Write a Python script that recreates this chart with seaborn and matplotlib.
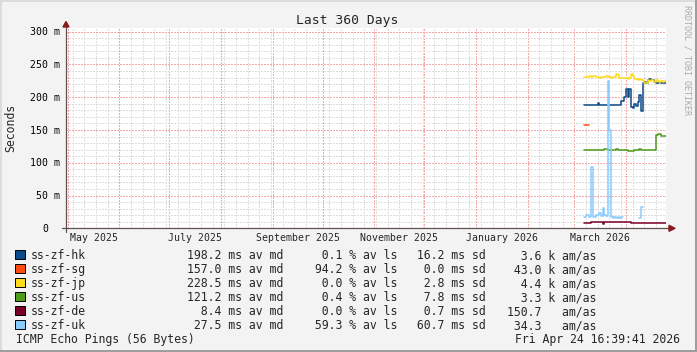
import numpy as np
import pandas as pd
import matplotlib
matplotlib.use("Agg")
import matplotlib.pyplot as plt
import matplotlib.dates as mdates
import matplotlib.transforms as mtransforms
from matplotlib.patches import Rectangle, Polygon
from matplotlib.lines import Line2D
from matplotlib.ticker import FixedLocator, MultipleLocator
import seaborn as sns

# ---------------- data ----------------
title = "Last 360 Days"
ylabel = "Seconds"
footer_left = "ICMP Echo Pings (56 Bytes)"
footer_right = "Fri Apr 24 16:39:41 2026"
watermark = "RRDTOOL / TOBI OETIKER"

t_start = pd.Timestamp("2025-04-29 16:39:41")
t_end = pd.Timestamp("2026-04-24 16:39:41")
data_start = "2026-03-07"          # first daily sample

series_names = ["ss-zf-hk", "ss-zf-sg", "ss-zf-jp", "ss-zf-us", "ss-zf-de", "ss-zf-uk"]
series_colors = ["#0B4A89", "#FF4A12", "#FFDA1E", "#4E9A19", "#7A0026", "#88CCFF"]

N = np.nan
hk = [188, 188, 188, 188, 188, 188, 188, 188, 191, 188, 188, 188, 188, 188, 188, 188,
      188, 188, 188, 188, 188, 188, 194, 194, 201, 212, 200, 212, 185, 184, 190, 186,
      192, 204, 179, 222, 223, 222, 227, 228, 226, 227, 223, 222, 222, 223, 221, 222, 221]
sg = [157, 157, 157] + [N] * 46
jp = [231, 231, 231, 232, 231, 233, 232, 231, 231, 230, 231, 231, 231, 232, 231, 231,
      230, 231, 231, 235, 234, 230, 230, 230, 229, 229, 228, 229, 235, 232, 228, 228,
      227, 228, 227, 227, 222, 222, 226, 225, 226, 225, 224, 226, 225, 224, 225, 224, 225]
us = [119.5] * 12 + [121, 121] + [119.5] * 5 + [120.5] + [119.5] * 6 + [118] * 4 \
     + [119] * 3 + [120.5] + [119.5] * 9 + [142, 144, 144, 141.5, 141.5, 141.5]
de = [7.6] * 4 + [9.0] * 7 + [6.5] + [9.0] * 16 + [7.6] * 21
uk = [18, 21, 20, 18, 93, 18, 17, 21, 20, 23, 19, 31, 20, 19, 225, 150, 17, 16, 18, 16,
      17, 16, 17] + [N] * 10 + [15, 32] + [N] * 14

legend_md = [198.2, 157.0, 228.5, 121.2, 8.4, 27.5]
legend_ls = [0.1, 94.2, 0.0, 0.4, 0.0, 59.3]
legend_sd = [16.2, 0.0, 2.8, 7.8, 0.7, 60.7]
legend_amas = [3.6, 43.0, 4.4, 3.3, 150.7, 34.3]
legend_amas_unit = ["k", "k", "k", "k", " ", " "]

ytick_vals = [0, 50, 100, 150, 200, 250, 300]
ytick_labels = ["0", "50 m", "100 m", "150 m", "200 m", "250 m", "300 m"]
ymax = 305.2

month_labels = ["May 2025", "July 2025", "September 2025", "November 2025",
                "January 2026", "March 2026"]
month_label_starts = ["2025-05-01", "2025-07-01", "2025-09-01", "2025-11-01",
                      "2026-01-01", "2026-03-01"]

# ---------------- build table ----------------
dates = pd.date_range(data_start, periods=len(hk), freq="D")
rows = []
for name, vals in zip(series_names, [hk, sg, jp, us, de, uk]):
    v = np.asarray(vals, dtype=float)
    ok = ~np.isnan(v)
    seg = np.cumsum(~ok)
    for sid in np.unique(seg[ok]):
        idx = np.where(ok & (seg == sid))[0]
        ds = list(dates[idx]) + [dates[idx[-1]] + pd.Timedelta(days=1)]
        ys = list(v[idx]) + [v[idx[-1]]]
        for d, y in zip(ds, ys):
            rows.append((name, f"{name}-{sid}", d, y))
df = pd.DataFrame(rows, columns=["series", "seg", "date", "value"])

# ---------------- style ----------------
W, H = 697, 352
BACK = "#F3F3F3"
GRID = "#DEDEDE"
MGRID = "#F5A8A8"
AXIS = "#5E5050"
ARROW = "#8B1A1A"

sns.set_style("white")
plt.rcParams["font.family"] = ["DejaVu Sans Mono", "DejaVu Sans"]

fig = plt.figure(figsize=(W / 100, H / 100), dpi=100, facecolor=BACK)
X0, X1, YB, YT = 65.5, 665.5, 228.3, 28.3
ax = fig.add_axes([X0 / W, 1 - YB / H, (X1 - X0) / W, (YB - YT) / H])
ax.set_facecolor("white")

sns.lineplot(data=df, x="date", y="value", hue="series", units="seg", estimator=None,
             hue_order=series_names, palette=dict(zip(series_names, series_colors)),
             drawstyle="steps-post", linewidth=1.1, legend=False, ax=ax, zorder=3)

ax.set_xlim(t_start, t_end)
ax.set_ylim(0, ymax)
ax.set_xlabel("")
ax.set_ylabel("")
for s in ax.spines.values():
    s.set_visible(False)

ax.xaxis.set_major_locator(mdates.MonthLocator())
ax.xaxis.set_minor_locator(mdates.WeekdayLocator(byweekday=mdates.SU))
ax.yaxis.set_major_locator(FixedLocator(ytick_vals))
ax.yaxis.set_minor_locator(MultipleLocator(10))
ax.set_axisbelow(True)
dot = (0, (1.4, 1.4))
gkw = dict(ls=dot, lw=0.72, antialiased=False)
ax.xaxis.grid(True, which="minor", color=GRID, **gkw)
ax.yaxis.grid(True, which="minor", color=GRID, **gkw)
ax.xaxis.grid(True, which="major", color=MGRID, **gkw)
ax.yaxis.grid(True, which="major", color=MGRID, **gkw)
ax.tick_params(labelbottom=False, labelleft=False)
ax.tick_params(axis="x", which="major", direction="inout", length=4, width=0.72, color="#E07070")
ax.tick_params(axis="x", which="minor", direction="inout", length=2.5, width=0.72, color="#A8A8A8")
ax.tick_params(axis="y", which="major", direction="out", length=3, width=0.72, color="#8A8A8A")
ax.tick_params(axis="y", which="minor", direction="out", length=1.6, width=0.72, color="#A8A8A8")

def fx(px):
    return px / W

def fy(py):
    return 1 - py / H

# axis lines + arrows
fig.add_artist(Line2D([fx(62), fx(670)], [fy(YB), fy(YB)], color=AXIS, lw=0.9, zorder=5))
fig.add_artist(Line2D([fx(X0 + 0.5), fx(X0 + 0.5)], [fy(232), fy(26)], color=AXIS, lw=0.9, zorder=5))
fig.add_artist(Polygon([(fx(669), fy(YB - 3)), (fx(675), fy(YB)), (fx(669), fy(YB + 3))],
                       closed=True, color=ARROW, transform=fig.transFigure, zorder=6))
fig.add_artist(Polygon([(fx(X0 - 2.5), fy(27)), (fx(X0 + 0.5), fy(21.5)), (fx(X0 + 3.5), fy(27))],
                       closed=True, color=ARROW, transform=fig.transFigure, zorder=6))

# y tick labels
ytrans = mtransforms.blended_transform_factory(fig.transFigure, ax.transData) + \
    mtransforms.ScaledTranslation(0, -3.5 / 100, fig.dpi_scale_trans)
for v, lab in zip(ytick_vals, ytick_labels):
    xr = 60 if lab.endswith("m") else 48
    ax.text(fx(xr), v, lab, transform=ytrans, ha="right", va="baseline", fontsize=7.1,
            color="black", clip_on=False)

# x month labels centred in their month
xtrans = mtransforms.blended_transform_factory(ax.transData, fig.transFigure)
for lab, st in zip(month_labels, month_label_starts):
    s = pd.Timestamp(st)
    e = s + pd.offsets.MonthBegin(1)
    mid = s + (e - s) / 2
    ax.text(mdates.date2num(mid), fy(241), lab, transform=xtrans, ha="center",
            va="baseline", fontsize=7.1, clip_on=False)

# title, ylabel, watermark
fig.text(fx(347.5), fy(24), title, ha="center", va="baseline", fontsize=9.4)
fig.text(fx(10.5), fy(127.5), ylabel, ha="center", va="center", rotation=90, fontsize=8.3)
fig.text(fx(687.5), fy(5), watermark, ha="center", va="top", rotation=270,
         fontsize=6, color="#ABABAB")

# legend
LFS = 8.3
for i, name in enumerate(series_names):
    base = 259.3 + 14 * i
    fig.add_artist(Rectangle((fx(15), fy(base)), 10 / W, 9.6 / H, transform=fig.transFigure,
                             facecolor=series_colors[i], edgecolor="black", lw=0.7))
    fig.text(fx(30.7), fy(base), name, ha="left", va="baseline", fontsize=LFS)
    fig.text(fx(283.5), fy(base), f"{legend_md[i]:5.1f} ms av md", ha="right", va="baseline", fontsize=LFS)
    fig.text(fx(397.7), fy(base), f"{legend_ls[i]:5.1f} % av ls", ha="right", va="baseline", fontsize=LFS)
    fig.text(fx(486), fy(base), f"{legend_sd[i]:5.1f} ms sd", ha="right", va="baseline", fontsize=LFS)
    fig.text(fx(596.7), fy(base), f"{legend_amas[i]:5.1f} {legend_amas_unit[i]} am/as",
             ha="right", va="baseline", fontsize=LFS)
fig.text(fx(16), fy(343.3), footer_left, ha="left", va="baseline", fontsize=LFS)
fig.text(fx(680), fy(343.3), footer_right, ha="right", va="baseline", fontsize=LFS)

# 3-D border
fig.add_artist(Rectangle((0, fy(2)), 1, 2 / H, transform=fig.transFigure, color="#DCDCDC", lw=0))
fig.add_artist(Rectangle((0, 0), 2 / W, 1, transform=fig.transFigure, color="#DCDCDC", lw=0))
fig.add_artist(Rectangle((0, 0), 1, 2 / H, transform=fig.transFigure, color="#9E9E9E", lw=0))
fig.add_artist(Rectangle((fx(695), 0), 2 / W, 1, transform=fig.transFigure, color="#9E9E9E", lw=0))

fig.savefig("out.png", dpi=100, facecolor=BACK)
